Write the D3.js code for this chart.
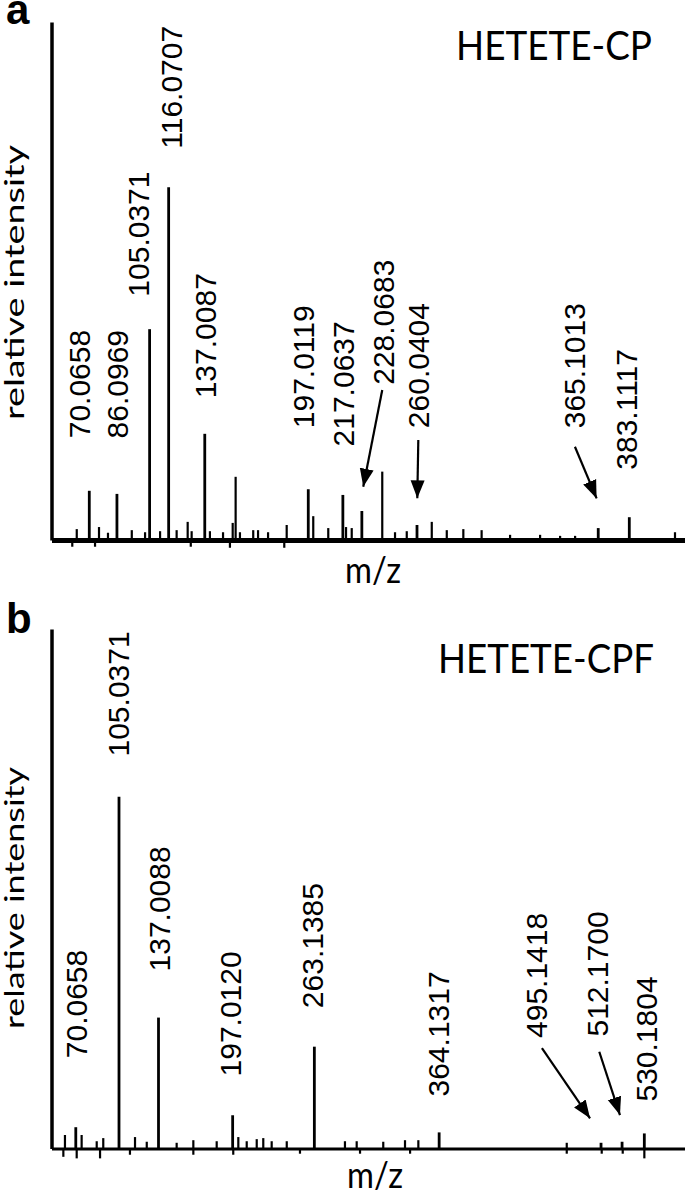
<!DOCTYPE html>
<html>
<head>
<meta charset="utf-8">
<script src="https://cdn.jsdelivr.net/npm/d3@7/dist/d3.min.js"></script>
<style>
  body { margin: 0; background: #fff; }
</style>
</head>
<body>
<svg id="chart"></svg>
<script>
const width = 685, height = 1195;

// ---- panel a : HETETE-CP ----
const titleA = "HETETE-CP";
const mzA = [70.0658, 86.0969, 105.0371, 116.0707, 137.0087, 197.0119, 217.0637, 228.0683, 260.0404, 365.1013, 383.1117];
const intA = [9.5, 8.9, 40.7, 68.1, 20.5, 9.8, 8.7, 5.6, 2.9, 2.3, 4.4];
// unlabelled peaks and noise (negative = dips under the baseline)
const minorMzA = [60.2, 62.8, 73.4, 75.7, 80.9, 94.7, 102.4, 111.1, 120.7, 127.1, 128.9, 129.4, 140.0, 147.6, 151.6, 153.2, 154.9,
  157.4, 165.1, 167.9, 173.7, 183.1, 184.5, 199.9, 208.6, 218.9, 222.2, 239.9, 247.3, 254.1, 268.6, 277.3, 286.9, 297.5,
  314.0, 331.4, 343.0, 351.7, 409.6];
const minorIntA = [-1.3, 2.1, -1.3, 2.5, 1.4, 1.9, 1.5, 1.7, 1.9, 3.5, -1.3, 1.7, 1.7, 1.5, -1.5, 3.3, 12.2,
  1.5, 1.9, 1.9, 1.5, -1.5, 2.9, 4.6, 2.3, 2.5, 2.3, 13.2, 1.5, 1.7, 3.5, 1.9, 2.1, 1.9,
  1.0, 1.0, 0.8, 0.8, 1.5];

// ---- panel b : HETETE-CPF ----
const titleB = "HETETE-CPF";
const mzB = [70.0658, 105.0371, 137.0088, 197.0120, 263.1385, 364.1317, 495.1418, 512.1700, 530.1804];
const intB = [4.1, 67.7, 25.2, 6.4, 19.6, 3.1, 1.1, 1.3, 2.9];
const minorMzB = [60.0, 61.3, 70.8, 74.8, 87.0, 89.7, 92.3, 113.9, 118.0, 127.5, 151.7, 165.2, 165.2, 184.1, 197.5, 201.6, 208.4,
  216.5, 221.8, 228.6, 240.8, 251.5, 287.9, 297.4, 300.1, 318.9, 336.5, 340.6, 347.3, 467.4, 467.4, 495.7, 512.7, 530.2];
const minorIntB = [-1.6, 2.6, -1.9, 2.6, 1.4, -1.9, 2.0, -1.2, 2.2, 1.3, 1.1, 1.6, -1.2, 1.4, -1.2, 2.2, 1.4,
  1.8, 2.0, 1.4, 1.4, -1.0, 1.4, 1.4, -1.0, 1.3, 1.6, -1.0, 1.6, 1.1, -1.0, -1.0, -1.0, -1.9];

// label placement: [dx from peak, gap above peak top] in px
const labelPosA = [[-10.1, 54], [0.5, 57], [-11.3, 34], [2.3, 40], [0.2, 37], [-5, 62.5], [0.4, 50], [21.4, 127.7], [1.3, 98.3], [-24.3, 101.3], [-2.7, 49]];
const labelPosB = [[0.9, 70.5], [-0.7, 41.8], [0.7, 47.6], [-2.6, 40.3], [-1.8, 40], [-0.8, 37.4], [-65, 106.3], [-24.6, 106.7], [1.5, 33.4]];
// arrows: label index, start (dx,dy) from label foot, tip (dx,dy) from peak top
const arrowsA = [[7, -1, 6.7, 1.4, -24.3], [8, 0, 13.3, 0.3, -26.7], [9, 1, 20, -1.6, -29.7]];
const arrowsB = [[6, 5.9, 11.6, -11, -24.5], [7, 1.8, 16.7, -2.1, -26.7]];

const labelFont = 30;

const svg = d3.select("#chart")
  .attr("width", width)
  .attr("height", height)
  .attr("xmlns", "http://www.w3.org/2000/svg");

svg.append("defs").append("marker")
  .attr("id", "head")
  .attr("markerUnits", "userSpaceOnUse")
  .attr("viewBox", "-18 -8 19 16")
  .attr("markerWidth", 19)
  .attr("markerHeight", 16)
  .attr("refX", 0)
  .attr("refY", 0)
  .attr("orient", "auto")
  .append("path")
  .attr("d", "M0,0L-18,-7L-18,7Z")
  .attr("fill", "black");

function drawPanel(p) {
  const x = d3.scaleLinear().domain(p.xDomain).range([51.5, width]);
  const y = d3.scaleLinear().domain([0, 100]).range([p.base, p.top]);
  const g = svg.append("g");

  g.append("g")
    .selectAll("line")
    .data(d3.zip(p.minorMz, p.minorInt))
    .enter()
    .append("line")
    .attr("x1", d => x(d[0]))
    .attr("x2", d => x(d[0]))
    .attr("y1", y(0))
    .attr("y2", d => y(d[1]))
    .attr("stroke", "black")
    .attr("stroke-width", 2.2);

  g.append("g")
    .selectAll("line")
    .data(d3.zip(p.mz, p.int))
    .enter()
    .append("line")
    .attr("x1", d => x(d[0]))
    .attr("x2", d => x(d[0]))
    .attr("y1", y(0))
    .attr("y2", d => y(d[1]))
    .attr("stroke", "black")
    .attr("stroke-width", 2.8);

  // axes without ticks
  g.append("g")
    .attr("transform", `translate(0,${y(0)})`)
    .call(d3.axisBottom(x).tickValues([]).tickSizeOuter(0))
    .select(".domain")
    .attr("stroke-width", p.baseWidth);
  g.append("g")
    .attr("transform", `translate(${x.range()[0]},0)`)
    .call(d3.axisLeft(y).tickValues([]).tickSizeOuter(0))
    .select(".domain")
    .attr("stroke-width", 3.5);

  const cap = labelFont * 0.716;
  const foot = (d, i) => [x(d) + p.labelPos[i][0], y(p.int[i]) - p.labelPos[i][1]];

  g.append("g")
    .selectAll("text")
    .data(p.mz)
    .enter()
    .append("text")
    .attr("transform", (d, i) => {
      const f = foot(d, i);
      return `translate(${f[0] + cap / 2},${f[1] + 1.5}) rotate(-90)`;
    })
    .attr("font-family", "'Liberation Sans', Arial, sans-serif")
    .attr("font-size", labelFont)
    .attr("fill", "black")
    .text(d => d.toFixed(4));

  g.append("g")
    .selectAll("line")
    .data(p.arrows)
    .enter()
    .append("line")
    .attr("x1", a => foot(p.mz[a[0]], a[0])[0] + a[1])
    .attr("y1", a => foot(p.mz[a[0]], a[0])[1] + a[2])
    .attr("x2", a => x(p.mz[a[0]]) + a[3])
    .attr("y2", a => y(p.int[a[0]]) + a[4])
    .attr("stroke", "black")
    .attr("stroke-width", 2.2)
    .attr("marker-end", "url(#head)");

  g.append("text")
    .attr("x", p.titleX)
    .attr("y", p.titleY)
    .attr("font-family", "Lato, 'Open Sans', sans-serif")
    .attr("font-size", 40)
    .attr("textLength", p.titleLen)
    .attr("lengthAdjust", "spacingAndGlyphs")
    .text(p.title);

  g.append("text")
    .attr("x", p.letterX)
    .attr("y", p.letterY)
    .attr("font-family", "'Liberation Sans', Arial, sans-serif")
    .attr("font-weight", "bold")
    .attr("font-size", 42)
    .text(p.letter);

  g.append("text")
    .attr("transform", `translate(24,${p.yLabelY}) rotate(-90)`)
    .attr("text-anchor", "middle")
    .attr("font-family", "Lato, 'Open Sans', sans-serif")
    .attr("font-size", 26)
    .attr("textLength", p.yLabelLen)
    .attr("lengthAdjust", "spacingAndGlyphs")
    .text("relative intensity");

  g.append("text")
    .attr("x", p.mzX)
    .attr("y", p.mzY)
    .attr("font-family", "Lato, 'Open Sans', sans-serif")
    .attr("font-size", 36)
    .attr("textLength", 56)
    .attr("lengthAdjust", "spacingAndGlyphs")
    .text("m/z");
}

drawPanel({
  xDomain: [48.16, 415.4], base: 540, top: 22, baseWidth: 5,
  mz: mzA, int: intA, minorMz: minorMzA, minorInt: minorIntA,
  labelPos: labelPosA, arrows: arrowsA,
  title: titleA, titleX: 456, titleY: 60, titleLen: 196,
  letter: "a", letterX: 6, letterY: 24,
  yLabelY: 282.5, yLabelLen: 275,
  mzX: 345, mzY: 583
});

drawPanel({
  xDomain: [50.41, 563.1], base: 1148.5, top: 629, baseWidth: 3,
  mz: mzB, int: intB, minorMz: minorMzB, minorInt: minorIntB,
  labelPos: labelPosB, arrows: arrowsB,
  title: titleB, titleX: 438, titleY: 673, titleLen: 216,
  letter: "b", letterX: 6, letterY: 633,
  yLabelY: 898, yLabelLen: 262,
  mzX: 347, mzY: 1188
});
</script>
</body>
</html>
